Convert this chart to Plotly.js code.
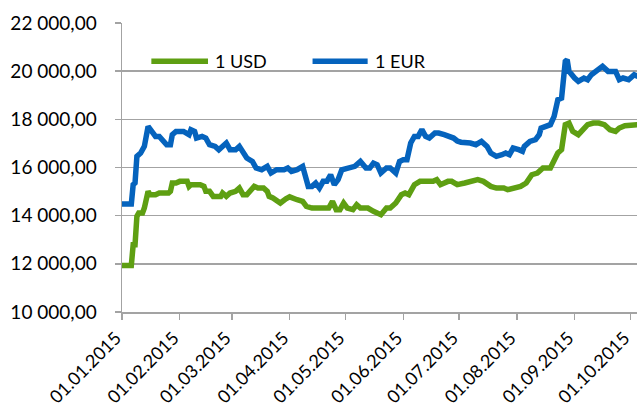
<!DOCTYPE html>
<html>
<head>
<meta charset="utf-8">
<script src="https://cdn.plot.ly/plotly-3.0.1.min.js"></script>
<style>html,body{margin:0;padding:0;background:#fff;}#chart{width:638px;height:408px;}</style>
</head>
<body>
<div id="chart"></div>
<script>
const usdDates = ['2015-01-01','2015-01-06','2015-01-07','2015-01-08','2015-01-09','2015-01-10','2015-01-12','2015-01-13','2015-01-15','2015-01-16','2015-01-19','2015-01-21','2015-01-26','2015-01-27','2015-01-28','2015-01-30','2015-02-01','2015-02-05','2015-02-06','2015-02-07','2015-02-12','2015-02-14','2015-02-15','2015-02-17','2015-02-19','2015-02-23','2015-02-24','2015-02-26','2015-02-28','2015-03-03','2015-03-05','2015-03-07','2015-03-09','2015-03-11','2015-03-13','2015-03-15','2015-03-18','2015-03-20','2015-03-21','2015-03-23','2015-03-27','2015-03-30','2015-04-01','2015-04-05','2015-04-08','2015-04-10','2015-04-13','2015-04-22','2015-04-24','2015-04-26','2015-04-28','2015-04-30','2015-05-02','2015-05-05','2015-05-07','2015-05-09','2015-05-13','2015-05-16','2015-05-18','2015-05-20','2015-05-23','2015-05-25','2015-05-28','2015-05-31','2015-06-02','2015-06-04','2015-06-07','2015-06-10','2015-06-17','2015-06-19','2015-06-21','2015-06-25','2015-06-27','2015-06-30','2015-07-04','2015-07-08','2015-07-11','2015-07-14','2015-07-16','2015-07-18','2015-07-21','2015-07-25','2015-07-27','2015-07-31','2015-08-03','2015-08-06','2015-08-09','2015-08-12','2015-08-15','2015-08-19','2015-08-21','2015-08-23','2015-08-25','2015-08-27','2015-08-29','2015-08-31','2015-09-03','2015-09-06','2015-09-08','2015-09-11','2015-09-14','2015-09-17','2015-09-20','2015-09-23','2015-09-25','2015-09-28','2015-10-02','2015-10-05'];
const usdValues = [11935,11935,12794,12794,13971,14110,14110,14318,15009,14870,14870,14940,14940,15009,15356,15356,15424,15424,15216,15286,15286,15216,15009,15009,14801,14801,14940,14801,14940,15009,15147,14870,14870,15009,15216,15147,15147,15009,14801,14732,14524,14700,14780,14663,14593,14386,14317,14317,14593,14248,14248,14524,14317,14248,14455,14317,14317,14179,14109,14040,14317,14317,14524,14870,14940,14870,15286,15424,15424,15493,15286,15424,15424,15286,15355,15424,15493,15424,15286,15216,15147,15147,15078,15147,15216,15355,15700,15770,15978,15978,16324,16600,16739,17777,17846,17500,17362,17638,17777,17846,17846,17777,17569,17500,17638,17735,17735,17777];

const eurDates = ['2015-01-01','2015-01-06','2015-01-07','2015-01-08','2015-01-09','2015-01-11','2015-01-13','2015-01-14','2015-01-15','2015-01-17','2015-01-19','2015-01-21','2015-01-23','2015-01-25','2015-01-27','2015-01-28','2015-01-30','2015-02-03','2015-02-06','2015-02-07','2015-02-09','2015-02-10','2015-02-13','2015-02-15','2015-02-17','2015-02-20','2015-02-22','2015-02-24','2015-02-26','2015-02-28','2015-03-03','2015-03-05','2015-03-07','2015-03-09','2015-03-12','2015-03-14','2015-03-17','2015-03-20','2015-03-22','2015-03-25','2015-03-29','2015-03-31','2015-04-02','2015-04-05','2015-04-08','2015-04-09','2015-04-11','2015-04-13','2015-04-15','2015-04-17','2015-04-19','2015-04-21','2015-04-23','2015-04-25','2015-04-27','2015-04-29','2015-05-02','2015-05-06','2015-05-09','2015-05-12','2015-05-14','2015-05-16','2015-05-18','2015-05-20','2015-05-23','2015-05-25','2015-05-28','2015-05-30','2015-06-01','2015-06-03','2015-06-05','2015-06-07','2015-06-09','2015-06-11','2015-06-13','2015-06-15','2015-06-18','2015-06-20','2015-06-23','2015-06-26','2015-06-28','2015-06-30','2015-07-02','2015-07-07','2015-07-10','2015-07-13','2015-07-16','2015-07-18','2015-07-21','2015-07-24','2015-07-26','2015-07-28','2015-07-30','2015-08-02','2015-08-04','2015-08-05','2015-08-08','2015-08-11','2015-08-13','2015-08-14','2015-08-19','2015-08-21','2015-08-23','2015-08-25','2015-08-26','2015-08-27','2015-08-28','2015-08-29','2015-09-01','2015-09-03','2015-09-06','2015-09-08','2015-09-10','2015-09-13','2015-09-16','2015-09-19','2015-09-23','2015-09-25','2015-09-27','2015-09-30','2015-10-03','2015-10-05'];
const eurValues = [14483,14483,15286,15355,16462,16600,16877,17292,17707,17500,17292,17292,17154,16946,16946,17362,17500,17500,17362,17569,17500,17223,17292,17223,16946,16877,16739,16877,17016,16739,16739,16877,16600,16393,16254,15978,15908,16047,15770,15908,15908,15978,15839,15908,16047,15770,15216,15216,15355,15147,15424,15424,15700,15286,15493,15908,15978,16047,16254,15978,15978,16185,16116,15770,15978,15978,15770,16254,16324,16324,17016,17292,17292,17569,17292,17223,17431,17431,17362,17292,17223,17100,17050,17016,16946,17085,16877,16600,16462,16531,16600,16531,16808,16739,16670,16877,17085,17154,17362,17638,17777,18123,18815,18884,19645,20406,20475,19991,19714,19576,19714,19645,19853,20060,20198,19991,19991,19645,19714,19645,19853,19784];

const seriesNames = ['1 USD', '1 EUR'];
const xTickVals = ['2015-01-01','2015-02-01','2015-03-01','2015-04-01','2015-05-01','2015-06-01','2015-07-01','2015-08-01','2015-09-01','2015-10-01'];
const xTickText = ['01.01.2015','01.02.2015','01.03.2015','01.04.2015','01.05.2015','01.06.2015','01.07.2015','01.08.2015','01.09.2015','01.10.2015'];
const yTickVals = [10000,12000,14000,16000,18000,20000,22000];
const yTickText = ['10 000,00','12 000,00','14 000,00','16 000,00','18 000,00','20 000,00','22 000,00'];

const GREEN = '#5e9f12';
const BLUE = '#0563bd';
const FONT = 'Lato, "Open Sans", sans-serif';
const GRID = '#a3a3a3';

const traces = [
  {x: usdDates, y: usdValues, name: seriesNames[0], type: 'scatter', mode: 'lines',
   line: {color: GREEN, width: 5.5}},
  {x: eurDates, y: eurValues, name: seriesNames[1], type: 'scatter', mode: 'lines',
   line: {color: BLUE, width: 5.5}}
];

const layout = {
  width: 638, height: 408,
  margin: {l: 122, r: 1, t: 23, b: 96},
  paper_bgcolor: '#fff', plot_bgcolor: '#fff',
  showlegend: false,
  font: {family: FONT, size: 19, color: '#000'},
  xaxis: {
    type: 'date',
    range: ['2015-01-01', '2015-10-04 12:00'],
    tickmode: 'array', tickvals: xTickVals, ticktext: xTickText,
    tickangle: -45,
    ticklabeloverflow: 'allow',
    ticklabelshift: -6,
    ticklabelstandoff: 1,
    ticks: 'outside', ticklen: 6, tickcolor: GRID, tickwidth: 1.5,
    showline: true, linecolor: GRID, linewidth: 1.5,
    showgrid: false, zeroline: false,
    tickfont: {family: FONT, size: 18, color: '#000'}
  },
  yaxis: {
    range: [10000, 22000],
    tickmode: 'array', tickvals: yTickVals, ticktext: yTickText,
    ticks: 'outside', ticklen: 6, tickcolor: GRID, tickwidth: 1.5,
    ticklabelstandoff: 14,
    showline: true, linecolor: GRID, linewidth: 1.5,
    showgrid: true, gridcolor: GRID, gridwidth: 1.5,
    zeroline: false,
    tickfont: {family: FONT, size: 19, color: '#000'}
  },
  shapes: [
    {type: 'line', xref: 'paper', yref: 'paper', x0: 0.057, x1: 0.167, y0: 0.868, y1: 0.868,
     line: {color: GREEN, width: 5.5}},
    {type: 'line', xref: 'paper', yref: 'paper', x0: 0.370, x1: 0.477, y0: 0.868, y1: 0.868,
     line: {color: BLUE, width: 5.5}}
  ],
  annotations: [
    {xref: 'paper', yref: 'paper', x: 0.176, y: 0.868, xanchor: 'left', yanchor: 'middle',
     text: seriesNames[0], showarrow: false, font: {family: FONT, size: 18, color: '#000'}},
    {xref: 'paper', yref: 'paper', x: 0.488, y: 0.868, xanchor: 'left', yanchor: 'middle',
     text: seriesNames[1], showarrow: false, font: {family: FONT, size: 18, color: '#000'}}
  ]
};

Plotly.newPlot('chart', traces, layout, {displayModeBar: false, staticPlot: true});
</script>
</body>
</html>
